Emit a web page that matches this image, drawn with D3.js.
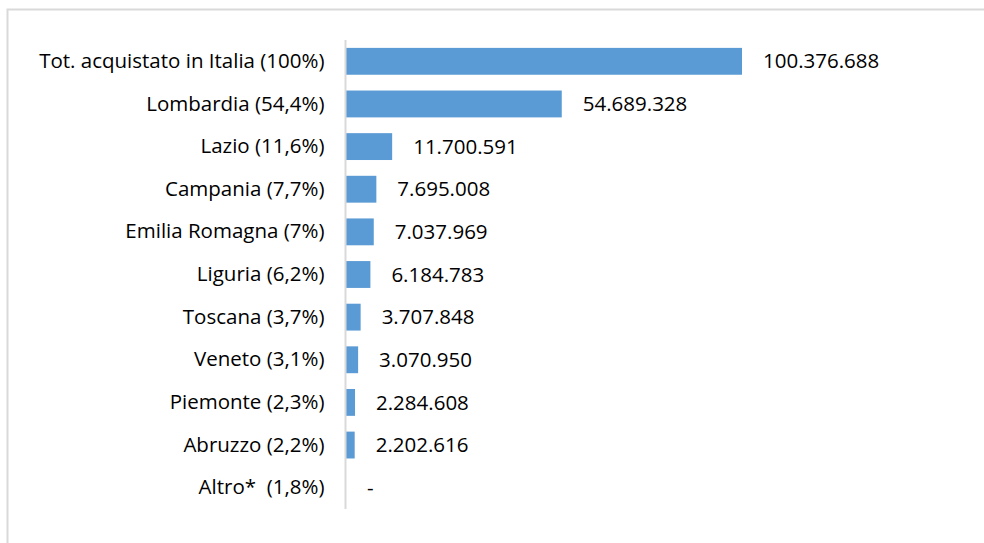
<!DOCTYPE html>
<html><head><meta charset="utf-8">
<script src="https://cdn.jsdelivr.net/npm/d3@7"></script>
<style>html,body{margin:0;padding:0;background:#fff;}svg{display:block;} text{white-space:pre;}</style>
</head><body>
<svg id="chart" width="984" height="543"></svg>
<script>
const categories = ["Tot. acquistato in Italia (100%)","Lombardia (54,4%)","Lazio (11,6%)","Campania (7,7%)","Emilia Romagna (7%)","Liguria (6,2%)","Toscana (3,7%)","Veneto (3,1%)","Piemonte (2,3%)","Abruzzo (2,2%)","Altro*  (1,8%)"];
const values = [100376688, 54689328, 11700591, 7695008, 7037969, 6184783, 3707848, 3070950, 2284608, 2202616, 0];
const valueLabels = ["100.376.688","54.689.328","11.700.591","7.695.008","7.037.969","6.184.783","3.707.848","3.070.950","2.284.608","2.202.616","-"];

const svg = d3.select("#chart");
const font = "'Open Sans', sans-serif";
const fs = 20.5;
svg.append("rect").attr("x",7.5).attr("y",9.5).attr("width",1000).attr("height",560)
  .attr("fill","none").attr("stroke","#D9D9D9").attr("stroke-width",2);

const x0 = 346, y0 = 40, y1 = 509;
const x = d3.scaleLinear().domain([0, 100376688]).range([x0, 742]);
const y = d3.scaleBand().domain(categories).range([y0, y1]).paddingInner(0.37).paddingOuter(0.185);

const data = categories.map((c,i)=>({c, v: values[i], l: valueLabels[i]}));

svg.selectAll("rect.bar").data(data.filter(d=>d.v>0)).enter().append("rect")
  .attr("class","bar").attr("x", x(0)).attr("y", d=>y(d.c))
  .attr("width", d=>x(d.v)-x(0)).attr("height", y.bandwidth()).attr("fill","#5B9BD5");

const yAxis = d3.axisLeft(y).tickSize(0).tickPadding(21);
const g = svg.append("g").attr("transform",`translate(${x0-0.5},0)`).call(yAxis);
g.select(".domain").attr("stroke","#D9D9D9").attr("stroke-width",2).attr("d",`M0,${y0}V${y1}`);
g.selectAll("text").attr("font-family",font).attr("font-size",fs).attr("fill","#000");

svg.selectAll("text.val").data(data).enter().append("text").attr("class","val")
  .attr("x", d=>x(d.v)+21).attr("y", d=>y(d.c)+y.bandwidth()/2).attr("dy","0.35em")
  .attr("font-family",font).attr("font-size",fs).attr("fill","#000").text(d=>d.l);
</script>
</body></html>
